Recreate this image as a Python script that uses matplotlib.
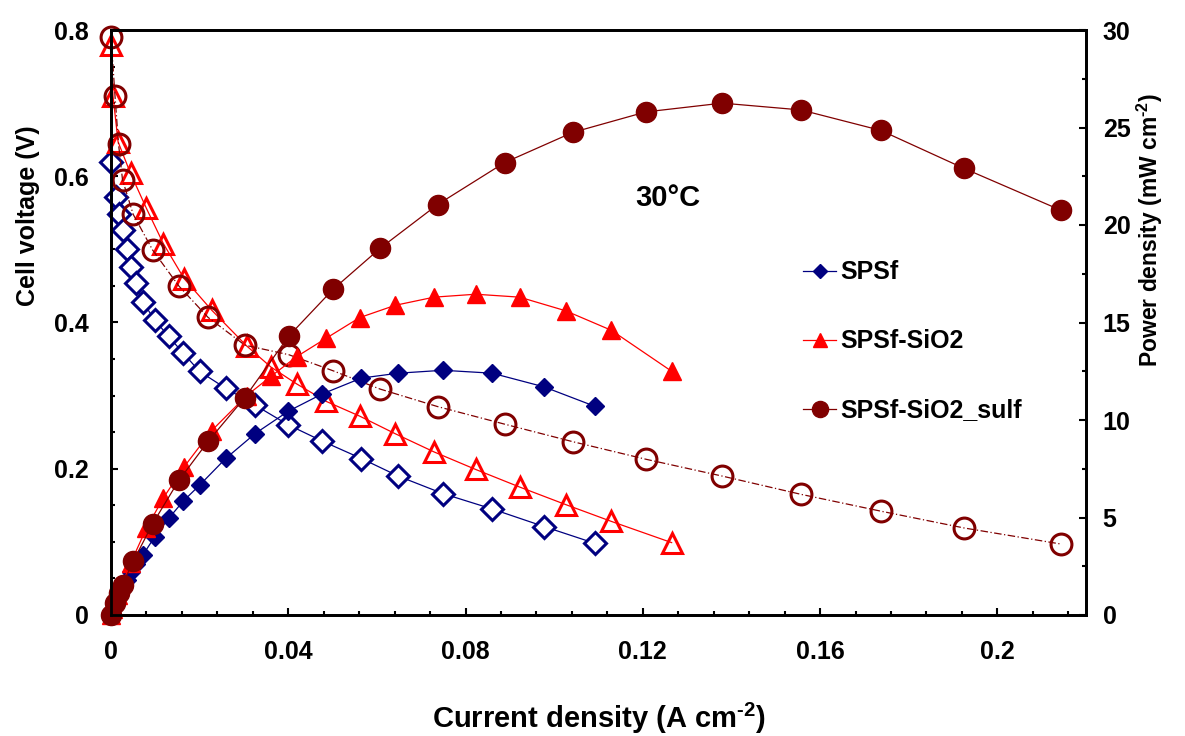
import numpy as np
import matplotlib
matplotlib.use('Agg')
import matplotlib.pyplot as plt
from matplotlib.ticker import MultipleLocator, FuncFormatter

plt.rcParams['font.family'] = ['Liberation Sans', 'DejaVu Sans']
plt.rcParams['font.weight'] = 'bold'
plt.rcParams['mathtext.fontset'] = 'custom'
plt.rcParams['mathtext.rm'] = 'Liberation Sans:bold'
plt.rcParams['mathtext.default'] = 'rm'

# SPSf
i_spsf = [0, 0.0011, 0.0018, 0.0027, 0.0036, 0.0046, 0.0057, 0.0072, 0.0099, 0.0130, 0.0163,
          0.0200, 0.0259, 0.0325, 0.0400, 0.0476, 0.0565, 0.0648, 0.0749, 0.0860, 0.0977, 0.1092]
v_spsf = [0.620, 0.572, 0.548, 0.526, 0.500, 0.476, 0.454, 0.428, 0.403, 0.381, 0.358,
          0.333, 0.310, 0.287, 0.260, 0.238, 0.214, 0.190, 0.166, 0.145, 0.121, 0.098]
p_spsf = [0, 0.63, 0.99, 1.42, 1.80, 2.19, 2.59, 3.08, 4.02, 4.95, 5.84,
          6.66, 8.03, 9.30, 10.45, 11.33, 12.15, 12.40, 12.55, 12.40, 11.70, 10.70]

# SPSf-SiO2
i_sio2 = [0, 0.00045, 0.0016, 0.0044, 0.0080, 0.0118, 0.0165, 0.0227, 0.0306, 0.0361,
          0.0419, 0.0486, 0.0561, 0.0641, 0.0729, 0.0823, 0.0922, 0.1026, 0.1129, 0.1265]
v_sio2 = [0.779, 0.710, 0.647, 0.604, 0.556, 0.508, 0.460, 0.417, 0.368, 0.339,
          0.316, 0.292, 0.272, 0.248, 0.223, 0.199, 0.175, 0.151, 0.128, 0.099]
p_sio2 = [0, 0.32, 1.03, 2.65, 4.45, 6.0, 7.6, 9.45, 11.25, 12.24,
          13.25, 14.2, 15.25, 15.88, 16.3, 16.45, 16.3, 15.6, 14.6, 12.5]

# SPSf-SiO2_sulf
i_sulf = [0, 0.0009, 0.0017, 0.0026, 0.0050, 0.0094, 0.0153, 0.0219, 0.0302, 0.0401, 0.0501,
          0.0607, 0.0737, 0.0888, 0.1042, 0.1207, 0.1379, 0.1557, 0.1737, 0.1925, 0.2144]
v_sulf = [0.791, 0.710, 0.644, 0.595, 0.548, 0.499, 0.450, 0.407, 0.369, 0.356, 0.334,
          0.309, 0.285, 0.261, 0.237, 0.213, 0.190, 0.165, 0.142, 0.119, 0.097]
p_sulf = [0, 0.64, 1.15, 1.56, 2.75, 4.68, 6.9, 8.9, 11.15, 14.3, 16.7,
          18.8, 21.05, 23.2, 24.75, 25.8, 26.25, 25.9, 24.85, 22.9, 20.75]

navy = '#000080'
red = '#ff0000'
dred = '#800000'

fig = plt.figure(figsize=(11.85, 7.36), dpi=100)
ax = fig.add_axes([111/1185, 1-615/736, 975/1185, 585/736])
ax2 = ax.twinx()

# voltage curves (open markers)
ax.plot(i_spsf, v_spsf, '-', color=navy, lw=0.9, marker='D', ms=11, mfc='white',
        mec=navy, mew=2.2, clip_on=False)
ax.plot(i_sio2, v_sio2, '-', color=red, lw=0.9, marker='^', ms=15, mfc='none',
        mec=red, mew=2.2, clip_on=False)
ax.plot(i_sulf, v_sulf, color=dred, lw=0.9, ls=(0, (6, 2, 1, 2)), marker='o', ms=15,
        mfc='none', mec=dred, mew=2.2, clip_on=False)

# power curves (filled markers)
ax2.plot(i_spsf, p_spsf, '-', color=navy, lw=0.9, marker='D', ms=9.5, mfc=navy,
         mec=navy, clip_on=False, label='SPSf')
ax2.plot(i_sio2, p_sio2, '-', color=red, lw=0.9, marker='^', ms=13, mfc=red,
         mec=red, clip_on=False, label='SPSf-SiO2')
ax2.plot(i_sulf, p_sulf, '-', color=dred, lw=0.9, marker='o', ms=14.5, mfc=dred,
         mec=dred, clip_on=False, label='SPSf-SiO2_sulf')

ax.set_xlim(0, 0.22)
ax.set_ylim(0, 0.8)
ax2.set_ylim(0, 30)

fmt = FuncFormatter(lambda v, p: '%g' % round(v, 4))
ax.xaxis.set_major_locator(MultipleLocator(0.04))
ax.xaxis.set_minor_locator(MultipleLocator(0.008))
ax.xaxis.set_major_formatter(fmt)
ax.yaxis.set_major_locator(MultipleLocator(0.2))
ax.yaxis.set_minor_locator(MultipleLocator(0.05))
ax.yaxis.set_major_formatter(fmt)
ax2.yaxis.set_major_locator(MultipleLocator(5))
ax2.yaxis.set_minor_locator(MultipleLocator(2.5))

for a in (ax, ax2):
    for s in a.spines.values():
        s.set_linewidth(2)
ax.tick_params(which='both', direction='in', width=1.5, labelsize=18, top=False, right=False)
ax.tick_params(which='major', length=5)
ax.tick_params(which='minor', length=3)
ax.tick_params(axis='x', pad=18)
ax.tick_params(axis='y', pad=16)
ax2.tick_params(which='both', direction='in', width=1.5, labelsize=18, pad=12)
ax2.tick_params(which='major', length=5)
ax2.tick_params(which='minor', length=3)

ax.set_xlabel('Current density (A cm$^{\u20102}$)', fontsize=21, fontweight='bold')
ax.set_ylabel('Cell voltage (V)', fontsize=18, fontweight='bold')
ax2.set_ylabel('Power density (mW cm$^{\u20102}$)', fontsize=16.5, fontweight='bold')
ax.xaxis.label.set_va('center')
ax.yaxis.label.set_va('center')
ax2.yaxis.label.set_va('center')
ax.xaxis.set_label_coords(0.5005, -0.176)
ax.yaxis.set_label_coords(-0.085, 0.682)
ax2.yaxis.set_label_coords(1.066, 0.658)

ax.text(0.571, 0.713, '30°C', transform=ax.transAxes, fontsize=21, fontweight='bold',
        ha='center', va='center')

leg = ax2.legend(loc='upper left', bbox_to_anchor=(0.710, 0.606), frameon=False,
                 fontsize=18, markerscale=0.8, handlelength=1.3, handletextpad=0.2,
                 labelspacing=1.8, borderpad=0, borderaxespad=0)

fig.savefig('out.png', dpi=100)
